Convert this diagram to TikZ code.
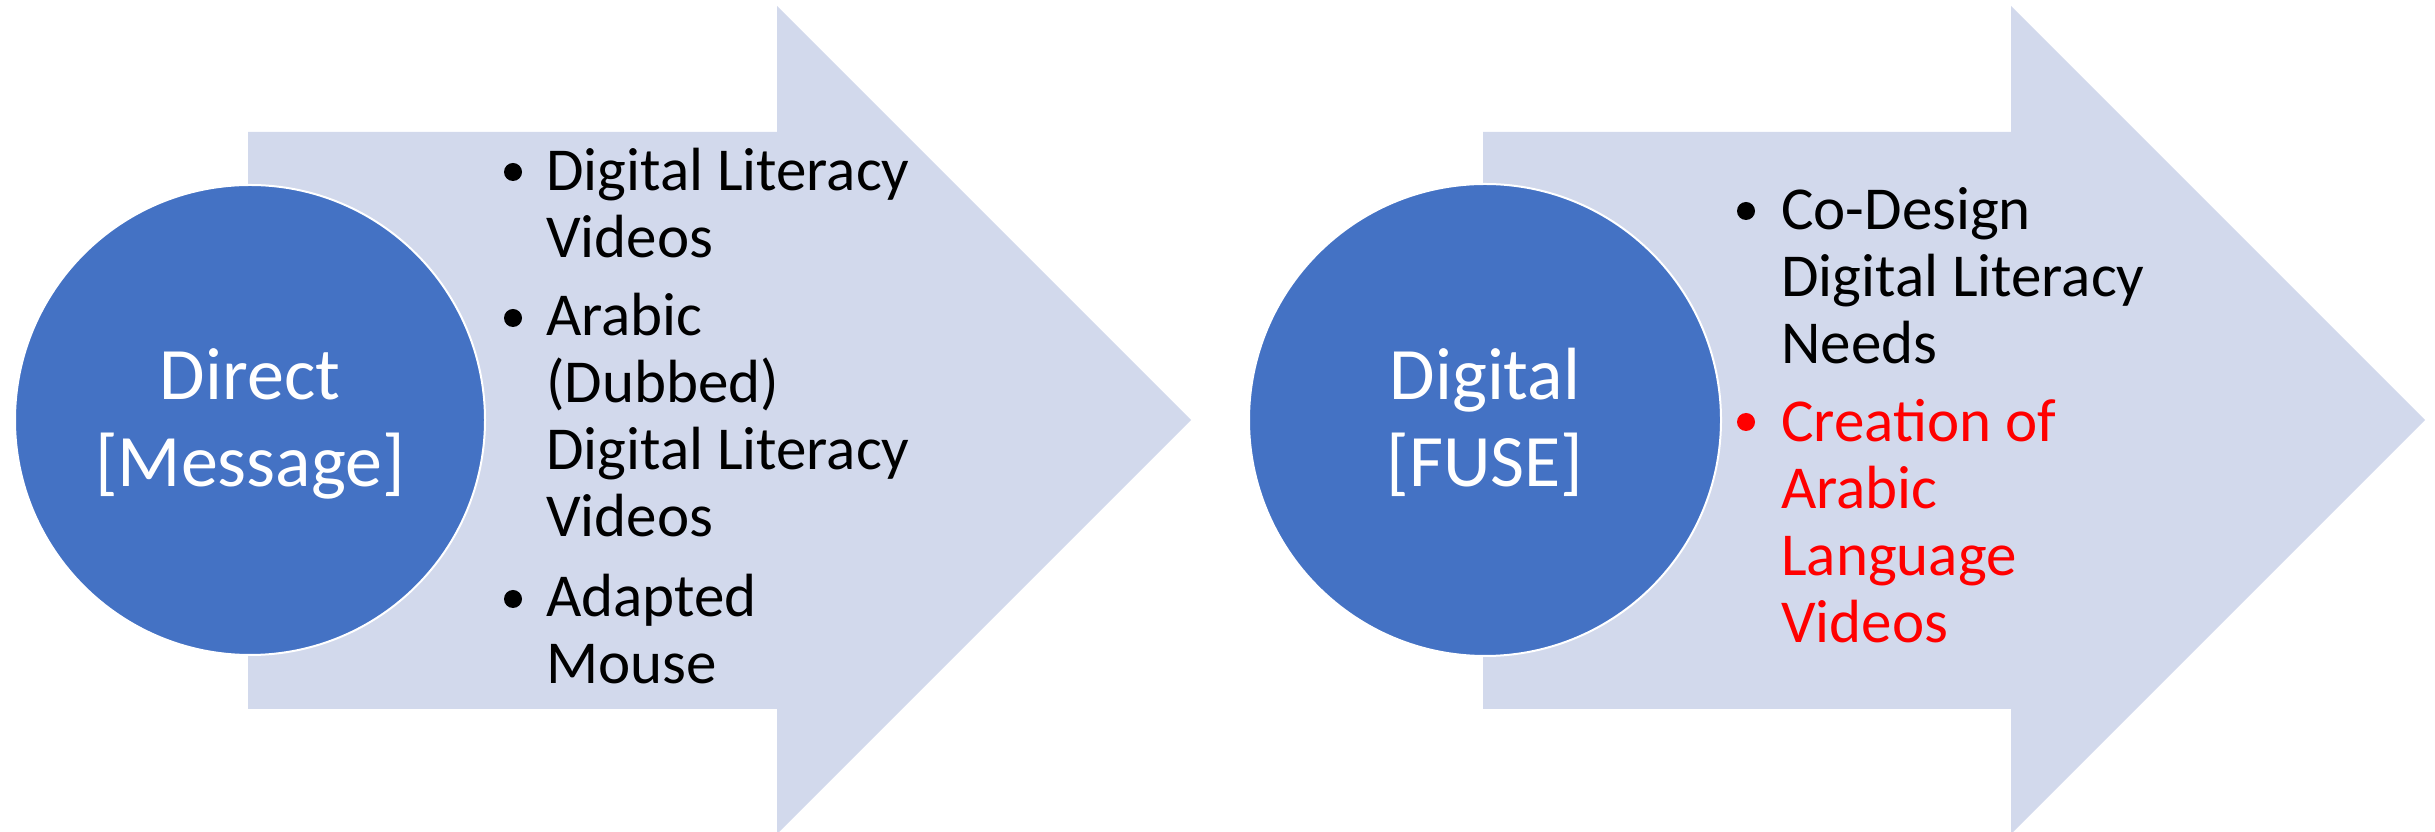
\documentclass[tikz,border=0pt]{standalone}
\usepackage{fontspec}
\setmainfont{Carlito}
\definecolor{arrowfill}{HTML}{D2D9EC}
\definecolor{circfill}{HTML}{4472C4}
\definecolor{redtxt}{HTML}{FF0000}
\tikzset{
  bigarrow/.style={fill=arrowfill, draw=none},
  hub/.style={circle, fill=circfill, draw=white, line width=2pt, inner sep=0pt},
  hublabel/.style={anchor=base, inner sep=0pt, text=white, font=\fontsize{74}{87}\selectfont},
  itemtext/.style={anchor=base west, inner sep=0pt, font=\fontsize{61}{67}\selectfont},
  bul/.style={circle, fill=black, inner sep=0pt, minimum size=18pt},
}
\begin{document}
\begin{tikzpicture}[x=1pt,y=1pt]
\useasboundingbox (0,0) rectangle (2435,832);
% arrows
\fill[bigarrow] (248,700) -- (777,700) -- (777,826) -- (1191,412) -- (777,-2) -- (777,123) -- (248,123) -- cycle;
\fill[bigarrow] (1483,700) -- (2011,700) -- (2011,826) -- (2425,412) -- (2011,-2) -- (2011,123) -- (1483,123) -- cycle;
% circles
\node[hub, minimum size=470pt] (c1) at (250,412) {};
\node[hub, minimum size=472pt] (c2) at (1485,412) {};
\node[hublabel] (l1) at (250,432) {\begin{tabular}[t]{@{}c@{}}Direct\\{[}Message{]}\end{tabular}};
\node[hublabel] (l2) at (1485,432) {\begin{tabular}[t]{@{}c@{}}Digital\\{[}FUSE{]}\end{tabular}};
% left items
\node[bul] (b1) at (513,660) {};
\node[itemtext] (t1) at (546,641) {\begin{tabular}[t]{@{}l@{}}Digital Literacy\\Videos\end{tabular}};
\node[bul] (b2) at (513,514) {};
\node[itemtext] (t2) at (546,496) {\begin{tabular}[t]{@{}l@{}}Arabic\\(Dubbed)\\Digital Literacy\\Videos\end{tabular}};
\node[bul] (b3) at (513,233) {};
\node[itemtext] (t3) at (546,215) {\begin{tabular}[t]{@{}l@{}}Adapted\\Mouse\end{tabular}};
% right items
\node[bul] (b4) at (1746,621) {};
\node[itemtext] (t4) at (1781,602) {\begin{tabular}[t]{@{}l@{}}Co-Design\\Digital Literacy\\Needs\end{tabular}};
\node[bul, fill=redtxt] (b5) at (1746,410) {};
\node[itemtext, text=redtxt] (t5) at (1781,390) {\begin{tabular}[t]{@{}l@{}}Creation of\\Arabic\\Language\\Videos\end{tabular}};
\end{tikzpicture}
\end{document}
